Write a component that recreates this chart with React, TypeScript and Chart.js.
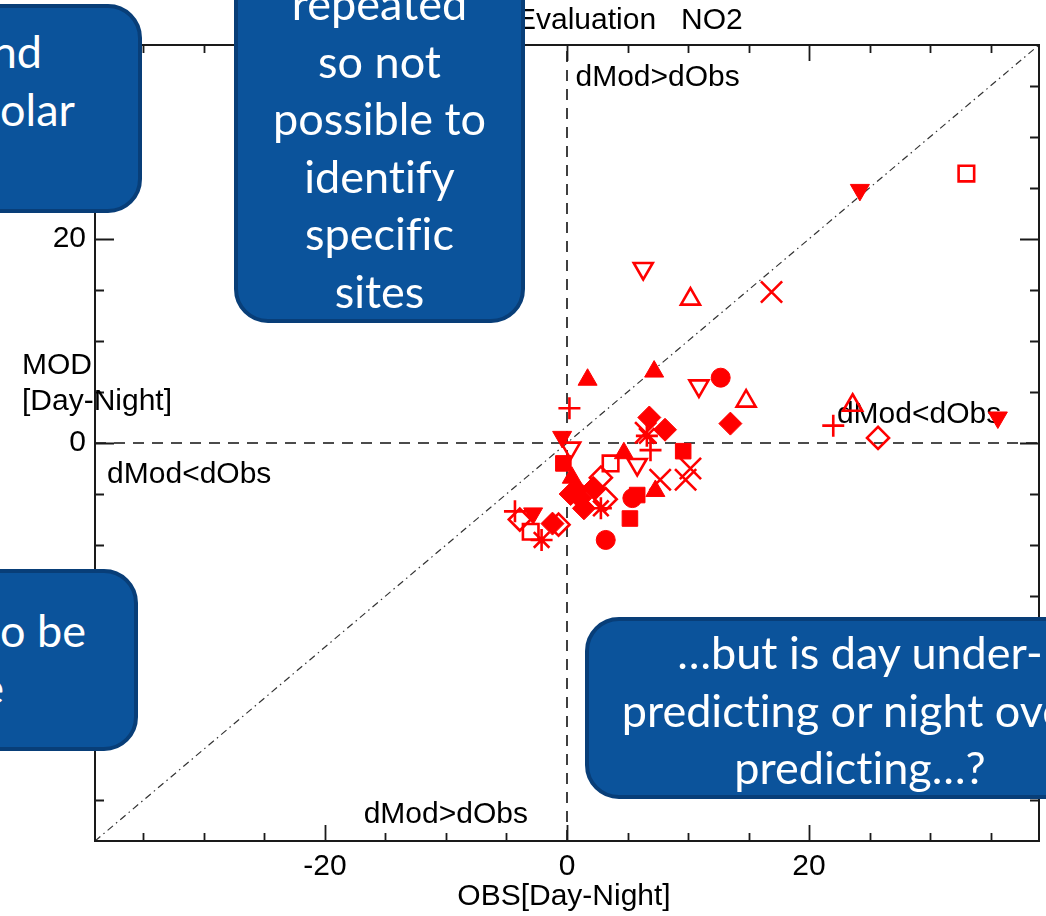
import React, { useEffect, useRef } from 'react';
import { Chart, registerables } from 'chart.js';

Chart.register(...registerables);

type Pair = [number, number];

// Axis extents and tick spacing (both axes share the same range)
const AXIS_MIN = -39;
const AXIS_MAX = 39;
const TICK_STEP = 5;
const LABELLED_TICKS = [-20, 0, 20];

// OBS[Day-Night], MOD[Day-Night] pairs, one list per site marker
const filledTriangleUp: Pair[] = [[1.7, 6.2], [7.2, 7.0], [0.4, -3.4], [4.7, -1.0], [7.3, -4.7]];
const filledTriangleDown: Pair[] = [[24.2, 24.8], [35.6, 2.5], [-0.4, 0.6], [-2.8, -6.9]];
const openTriangleUp: Pair[] = [[10.2, 14.1], [14.8, 4.1], [23.6, 3.7]];
const openTriangleDown: Pair[] = [[6.3, 17.1], [10.9, 5.6], [0.3, -0.5], [5.8, -2.1]];
const filledCircle: Pair[] = [[12.7, 6.4], [3.2, -9.5], [5.4, -5.4]];
const filledSquare: Pair[] = [[-0.3, -2.0], [9.6, -0.8], [5.2, -7.4], [5.8, -5.1]];
const openSquare: Pair[] = [[33.0, 26.4], [3.6, -2.0], [-3.0, -8.7]];
const filledDiamond: Pair[] = [
  [13.5, 1.9], [6.8, 2.5], [8.1, 1.3], [1.1, -5.4], [2.2, -4.4],
  [1.4, -6.4], [0.3, -5.0], [-1.2, -7.9], [0.8, -4.6],
];
const openDiamond: Pair[] = [[25.7, 0.5], [2.8, -3.4], [-3.9, -7.5], [-0.7, -8.0], [3.2, -5.5]];
const plusMarks: Pair[] = [[0.2, 3.4], [6.9, -0.7], [22.0, 1.7], [-4.3, -6.7]];
const crossMarks: Pair[] = [[16.9, 14.8], [6.5, 1.0], [10.2, -2.5], [9.8, -3.6], [7.7, -3.6]];
const starMarks: Pair[] = [[6.6, 0.7], [2.8, -6.4], [-2.1, -9.5]];

// Reference lines: 1:1 diagonal and the two zero lines
const ONE_TO_ONE: Pair[] = [[AXIS_MIN, AXIS_MIN], [AXIS_MAX, AXIS_MAX]];
const ZERO_X_LINE: Pair[] = [[0, AXIS_MIN], [0, AXIS_MAX]];
const ZERO_Y_LINE: Pair[] = [[AXIS_MIN, 0], [AXIS_MAX, 0]];

const RED = '#ff0000';
const CLEAR = 'rgba(0,0,0,0)';
const AXIS_FONT = "'Liberation Sans', Arial, sans-serif";
const FONT_SIZE = 30;

const markerSets = [
  { data: filledTriangleUp, style: 'triangle', rotation: 0, filled: true, radius: 11 },
  { data: filledTriangleDown, style: 'triangle', rotation: 180, filled: true, radius: 11 },
  { data: openTriangleUp, style: 'triangle', rotation: 0, filled: false, radius: 11 },
  { data: openTriangleDown, style: 'triangle', rotation: 180, filled: false, radius: 11 },
  { data: filledCircle, style: 'circle', rotation: 0, filled: true, radius: 9.5 },
  { data: filledSquare, style: 'rect', rotation: 0, filled: true, radius: 11 },
  { data: openSquare, style: 'rect', rotation: 0, filled: false, radius: 11 },
  { data: filledDiamond, style: 'rectRot', rotation: 0, filled: true, radius: 11.5 },
  { data: openDiamond, style: 'rectRot', rotation: 0, filled: false, radius: 11 },
  { data: plusMarks, style: 'cross', rotation: 0, filled: false, radius: 11 },
  { data: crossMarks, style: 'crossRot', rotation: 0, filled: false, radius: 15 },
  { data: starMarks, style: 'star', rotation: 0, filled: false, radius: 11 },
];

const quadrantLabels = [
  { text: 'dMod>dObs', x: 0.7, y: 35.8 },
  { text: 'dMod<dObs', x: 22.3, y: 2.8 },
  { text: 'dMod<dObs', x: -38.0, y: -3.1 },
  { text: 'dMod>dObs', x: -16.8, y: -36.4 },
];

const toPoints = (pairs: Pair[]) => pairs.map(([x, y]) => ({ x, y }));

const isLabelled = (v: number) => LABELLED_TICKS.some((t) => Math.abs(t - v) < 1e-6);

// Box frame, inward ticks on all four sides, titles and quadrant notes
const framePlugin = {
  id: 'idlFrame',
  beforeDatasetsDraw(chart: any) {
    const { ctx, scales } = chart;
    const { x, y } = scales;
    ctx.save();
    ctx.font = `${FONT_SIZE}px ${AXIS_FONT}`;
    ctx.fillStyle = '#000';
    ctx.textAlign = 'left';
    ctx.textBaseline = 'middle';
    for (const q of quadrantLabels) {
      ctx.fillText(q.text, x.getPixelForValue(q.x), y.getPixelForValue(q.y));
    }
    ctx.restore();
  },
  afterDatasetsDraw(chart: any) {
    const { ctx, chartArea, scales } = chart;
    const { left, right, top, bottom } = chartArea;
    const { x, y } = scales;
    ctx.save();
    ctx.strokeStyle = '#1a1a1a';
    ctx.lineWidth = 2;
    ctx.strokeRect(left, top, right - left, bottom - top);

    ctx.lineWidth = 1.8;
    ctx.beginPath();
    for (const t of x.ticks) {
      const px = Math.round(x.getPixelForValue(t.value)) + 0.5;
      const len = isLabelled(t.value) ? 16 : 8;
      ctx.moveTo(px, bottom);
      ctx.lineTo(px, bottom - len);
      ctx.moveTo(px, top);
      ctx.lineTo(px, top + len);
    }
    for (const t of y.ticks) {
      const py = Math.round(y.getPixelForValue(t.value)) + 0.5;
      const len = isLabelled(t.value) ? 19 : 9;
      ctx.moveTo(left, py);
      ctx.lineTo(left + len, py);
      ctx.moveTo(right, py);
      ctx.lineTo(right - len, py);
    }
    ctx.stroke();

    ctx.fillStyle = '#000';
    ctx.font = `${FONT_SIZE}px ${AXIS_FONT}`;
    ctx.textBaseline = 'alphabetic';
    ctx.textAlign = 'left';
    ctx.fillText('Evaluation   NO2', 516, 29);

    ctx.textBaseline = 'middle';
    ctx.textAlign = 'center';
    ctx.fillText('OBS[Day-Night]', (left + right) / 2 - 3, 897);

    ctx.textAlign = 'left';
    ctx.fillText('MOD', 22, 366);
    ctx.fillText('[Day-Night]', 22, 402);
    ctx.restore();
  },
};

const axisScale = (horizontal: boolean, extent: number, padding: number) => ({
  type: 'linear' as const,
  min: AXIS_MIN,
  max: AXIS_MAX,
  afterFit: (s: any) => {
    if (horizontal) {
      s.height = extent;
      s.paddingLeft = 0;
      s.paddingRight = 0;
    } else {
      s.width = extent;
      s.paddingTop = 0;
      s.paddingBottom = 0;
    }
  },
  grid: { display: false, drawTicks: false },
  border: { display: false },
  ticks: {
    stepSize: TICK_STEP,
    includeBounds: false,
    autoSkip: false,
    maxRotation: 0,
    padding,
    color: '#000',
    font: { family: AXIS_FONT, size: FONT_SIZE },
    callback: (v: number) => (isLabelled(v) ? String(Math.round(v)) : ''),
  },
});

function ScatterPanel() {
  const canvasRef = useRef<HTMLCanvasElement | null>(null);

  useEffect(() => {
    const canvas = canvasRef.current;
    if (!canvas) return;

    const markerDatasets = markerSets.map((m) => ({
      type: 'scatter' as const,
      data: toPoints(m.data),
      pointStyle: m.style,
      pointRotation: m.rotation,
      pointRadius: m.radius,
      pointBackgroundColor: m.filled ? RED : CLEAR,
      pointBorderColor: RED,
      pointBorderWidth: m.filled ? 1 : 2.6,
      showLine: false,
    }));

    const lineDataset = (pairs: Pair[], dash: number[], width: number, color: string) => ({
      type: 'line' as const,
      data: toPoints(pairs),
      borderColor: color,
      borderWidth: width,
      borderDash: dash,
      pointRadius: 0,
      fill: false,
      tension: 0,
    });

    const chart = new Chart(canvas, {
      type: 'scatter',
      data: {
        datasets: [
          ...markerDatasets,
          lineDataset(ZERO_X_LINE, [11, 8], 1.6, '#111'),
          lineDataset(ZERO_Y_LINE, [11, 8], 1.6, '#111'),
          lineDataset(ONE_TO_ONE, [7, 4, 1.5, 4], 1.2, '#333'),
        ] as any,
      },
      options: {
        responsive: false,
        animation: false,
        events: [],
        layout: { autoPadding: false, padding: { left: 0, right: 7, top: 45, bottom: 0 } },
        plugins: {
          legend: { display: false },
          tooltip: { enabled: false },
          title: { display: false },
        },
        scales: {
          x: axisScale(true, 75, 8),
          y: axisScale(false, 95, 9),
        } as any,
      },
      plugins: [framePlugin],
    });

    return () => chart.destroy();
  }, []);

  return <canvas ref={canvasRef} width={1046} height={916} style={{ display: 'block' }} />;
}

// Speech-bubble style notes laid over the plot
type CalloutLine = { text: string; top: number; right?: number };
type CalloutBox = { left: number; top: number; width: number; height: number; lines: CalloutLine[] };

const LINE_STEP = 57.5;
const BORDER = 4;

const centredLines = (texts: string[], firstTop: number): CalloutLine[] =>
  texts.map((text, i) => ({ text, top: firstTop + i * LINE_STEP }));

const callouts: CalloutBox[] = [
  {
    left: -310, top: 4, width: 452, height: 209,
    lines: [{ text: 'nd', top: 23, right: 42 }, { text: 'olar', top: 81, right: 75 }],
  },
  {
    left: 234, top: -60, width: 291, height: 383,
    lines: centredLines(['repeated', 'so not', 'possible to', 'identify', 'specific', 'sites'], -25),
  },
  {
    left: -310, top: 569, width: 448, height: 182,
    lines: [{ text: 'to be', top: 602, right: 86 }, { text: 'e', top: 659, right: 4 }],
  },
  {
    left: 585, top: 617, width: 550, height: 182,
    lines: centredLines(['…but is day under-', 'predicting or night over-', 'predicting…?'], 624),
  },
];

function Callout({ box }: { box: CalloutBox }) {
  return (
    <div
      style={{
        position: 'absolute',
        left: box.left,
        top: box.top,
        width: box.width,
        height: box.height,
        boxSizing: 'border-box',
        background: '#0B539B',
        border: `${BORDER}px solid #083E78`,
        borderRadius: 34,
        color: '#fff',
        fontFamily: "Lato, 'Open Sans', sans-serif",
        fontSize: 45,
        fontVariantLigatures: 'none',
        lineHeight: `${LINE_STEP}px`,
        overflow: 'hidden',
      }}
    >
      {box.lines.map((line, i) => {
        const top = line.top - box.top - BORDER;
        if (line.right !== undefined) {
          const innerRight = box.left + box.width - BORDER;
          return (
            <div key={i} style={{ position: 'absolute', top, right: innerRight - line.right, whiteSpace: 'nowrap' }}>
              {line.text}
            </div>
          );
        }
        return (
          <div key={i} style={{ position: 'absolute', top, left: 0, width: '100%', textAlign: 'center', whiteSpace: 'nowrap' }}>
            {line.text}
          </div>
        );
      })}
    </div>
  );
}

export default function App() {
  return (
    <div
      style={{
        position: 'absolute',
        left: 0,
        top: 0,
        width: 1046,
        height: 916,
        overflow: 'hidden',
        background: '#fff',
      }}
    >
      <ScatterPanel />
      {callouts.map((box, i) => (
        <Callout key={i} box={box} />
      ))}
    </div>
  );
}
